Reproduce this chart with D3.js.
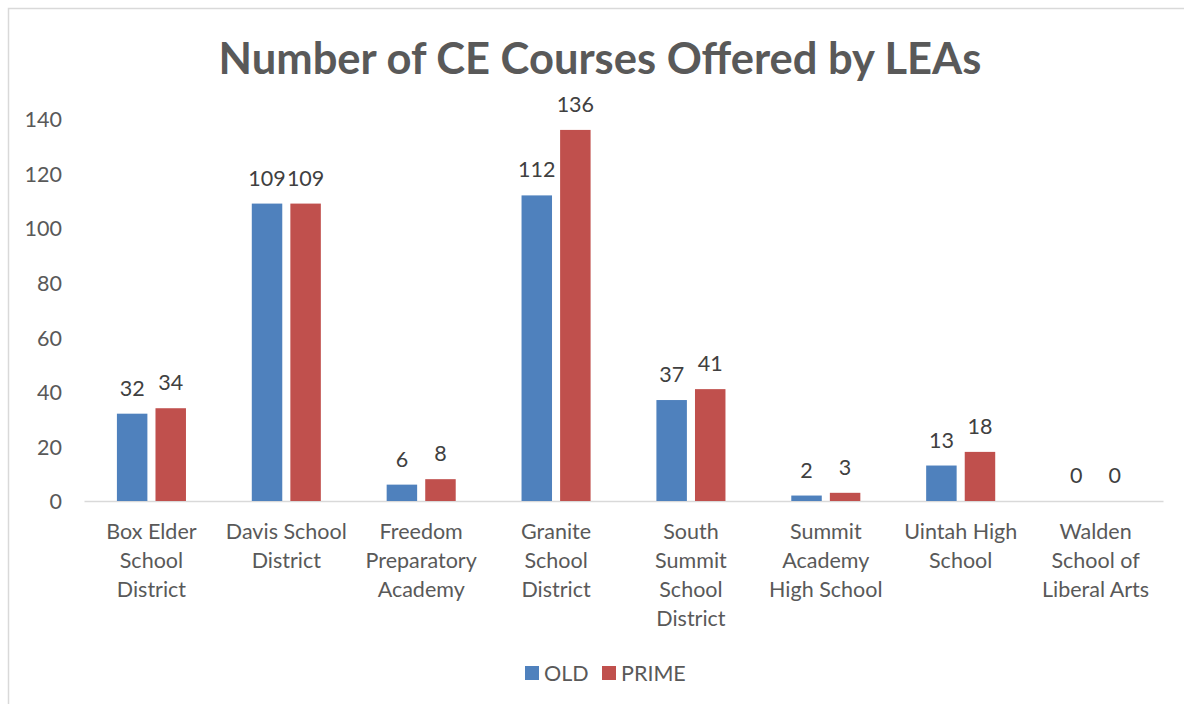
<!DOCTYPE html>
<html>
<head>
<meta charset="utf-8">
<script src="https://cdn.jsdelivr.net/npm/d3@7"></script>
<style>
  html, body { margin: 0; padding: 0; background: #fff; }
  svg { display: block; }
</style>
</head>
<body>
<svg id="chart" width="1184" height="704"></svg>
<script>
const categories = [
  "Box Elder School District",
  "Davis School District",
  "Freedom Preparatory Academy",
  "Granite School District",
  "South Summit School District",
  "Summit Academy High School",
  "Uintah High School",
  "Walden School of Liberal Arts"
];
const categoryLines = [
  ["Box Elder", "School", "District"],
  ["Davis School", "District"],
  ["Freedom", "Preparatory", "Academy"],
  ["Granite", "School", "District"],
  ["South", "Summit", "School", "District"],
  ["Summit", "Academy", "High School"],
  ["Uintah High", "School"],
  ["Walden", "School of", "Liberal Arts"]
];
const oldValues   = [32, 109, 6, 112, 37, 2, 13, 0];
const primeValues = [34, 109, 8, 136, 41, 3, 18, 0];
const seriesNames = ["OLD", "PRIME"];
const seriesColors = ["#4F81BD", "#C0504D"];
const yTicks = [0, 20, 40, 60, 80, 100, 120, 140];
const titleText = "Number of CE Courses Offered by LEAs";

const FONT = "Lato, 'Open Sans', 'Liberation Sans', sans-serif";
const svg = d3.select("#chart");

// chart border
svg.append("rect")
  .attr("x", 8.5).attr("y", 8.5)
  .attr("width", 1184).attr("height", 720)
  .attr("fill", "#fff")
  .attr("stroke", "#d9d9d9").attr("stroke-width", 1.5);

// title
svg.append("text")
  .attr("x", 600).attr("y", 74)
  .attr("text-anchor", "middle")
  .attr("font-family", FONT)
  .attr("font-weight", "bold")
  .attr("font-size", 43.5)
  .attr("fill", "#595959")
  .text(titleText);

const x = d3.scaleBand().domain(categories).range([84, 1163]).paddingInner(0).paddingOuter(0);
const y = d3.scaleLinear().domain([0, 140]).range([501, 119]);

const bw = x.bandwidth();
const barW = bw * 0.226;
const gap = bw * 0.06;

// y axis
const yAxis = svg.append("g")
  .attr("transform", "translate(62,0)")
  .call(d3.axisLeft(y).tickValues(yTicks).tickSize(0).tickPadding(0));
yAxis.select(".domain").remove();
yAxis.selectAll("text")
  .attr("font-family", FONT).attr("font-size", 21.5)
  .attr("fill", "#595959").attr("dy", "0.36em");

// x axis line
const xAxis = svg.append("g")
  .attr("transform", `translate(0,${y(0)})`)
  .call(d3.axisBottom(x).tickSize(0).tickFormat(""));
xAxis.select(".domain").attr("stroke", "#d9d9d9").attr("stroke-width", 1.5);

// category labels
const catG = svg.append("g");
categories.forEach((c, i) => {
  const t = catG.append("text")
    .attr("x", x(c) + bw / 2).attr("y", 539)
    .attr("text-anchor", "middle")
    .attr("font-family", FONT).attr("font-size", 21.5)
    .attr("fill", "#595959");
  categoryLines[i].forEach((ln, j) => {
    t.append("tspan").attr("x", x(c) + bw / 2).attr("y", 539 + j * 29).text(ln);
  });
});

// bars
const series = [oldValues, primeValues];
series.forEach((vals, s) => {
  const g = svg.append("g");
  const offset = s === 0 ? -gap / 2 - barW : gap / 2;
  g.selectAll("rect").data(vals).join("rect")
    .attr("x", (d, i) => x(categories[i]) + bw / 2 + offset)
    .attr("y", d => y(d))
    .attr("width", barW)
    .attr("height", d => y(0) - y(d))
    .attr("fill", seriesColors[s]);
  g.selectAll("text").data(vals).join("text")
    .attr("x", (d, i) => x(categories[i]) + bw / 2 + offset + barW / 2)
    .attr("y", d => y(d) - 18)
    .attr("text-anchor", "middle")
    .attr("font-family", FONT).attr("font-size", 21.5)
    .attr("fill", "#404040")
    .text(d => d);
});

// legend
const legend = svg.append("g");
const legendItems = [{x: 525, tx: 544}, {x: 602, tx: 621}];
seriesNames.forEach((n, i) => {
  legend.append("rect")
    .attr("x", legendItems[i].x).attr("y", 666)
    .attr("width", 14).attr("height", 14)
    .attr("fill", seriesColors[i]);
  legend.append("text")
    .attr("x", legendItems[i].tx).attr("y", 680.5)
    .attr("font-family", FONT).attr("font-size", 21.5)
    .attr("fill", "#595959")
    .text(n);
});
</script>
</body>
</html>
